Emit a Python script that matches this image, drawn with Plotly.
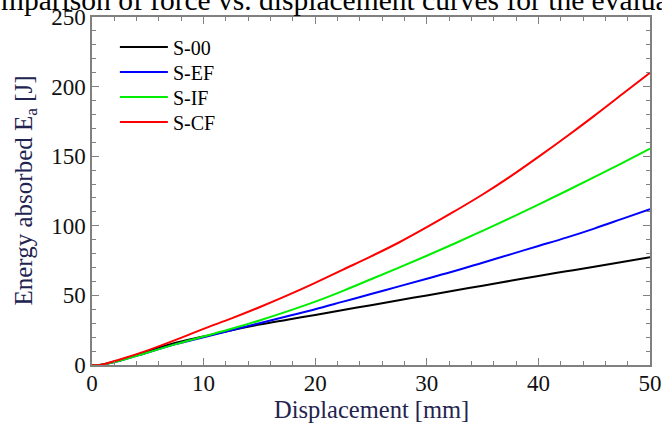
import plotly.graph_objects as go

# Displacement [mm]
disp = [0, 0.7, 2.5, 5, 7.5, 10, 12.5, 15, 17.5, 20, 22.5, 25, 27.5, 30,
        32.5, 35, 37.5, 40, 42.5, 45, 47.5, 50]

# Energy absorbed [J]
s00 = [0, 0, 3.5, 10, 16, 20.5, 25, 29, 32.5, 36, 39.5, 43, 46.5, 50,
       53.5, 57, 60.5, 64, 67.3, 70.6, 74, 77.5]
sef = [0, 0, 3, 9, 15, 20, 25, 30, 35, 40, 45.5, 51, 56.5, 62,
       67.5, 73.5, 79.5, 85.5, 91.5, 98, 105, 112]
sif = [0, 0, 3, 9, 15, 20.5, 26, 32, 38.5, 45.5, 53.3, 61.6, 70, 78.5,
       87.3, 96.4, 105.7, 115.2, 125, 134.9, 145.1, 155.5]
scf = [0, 0, 4, 10.5, 18, 26, 33.5, 41.5, 50, 59, 68.5, 78, 88, 99,
       110.5, 122.5, 135.5, 149.5, 164, 179, 194.5, 210]

series_names = ["S-00", "S-EF", "S-IF", "S-CF"]
series_vals = [s00, sef, sif, scf]
series_colors = ["#000000", "#0000ff", "#00ee00", "#ff0000"]

x_ticks = [0, 10, 20, 30, 40, 50]
y_ticks = [0, 50, 100, 150, 200, 250]

FONT = "Liberation Serif"
TITLE_COLOR = "#23234f"

# one single-entry legend per series, to reproduce the tight row spacing
legend_ids = ["legend", "legend2", "legend3", "legend4"]
legend_rows_y = [0.9138, 0.8420, 0.7701, 0.6983]

fig = go.Figure()
for name, vals, col, lid in zip(series_names, series_vals, series_colors, legend_ids):
    fig.add_trace(go.Scatter(x=disp, y=vals, mode="lines", name=name, legend=lid,
                             line=dict(color=col, width=2, shape="spline")))

axis_common = dict(
    showgrid=False, zeroline=False, showline=True, linecolor="#808080",
    linewidth=1.5, mirror="ticks", ticks="inside", ticklen=7, tickwidth=1.2,
    tickcolor="#808080", automargin=False,
    tickfont=dict(family=FONT, size=23, color="#111111"),
)

fig.update_xaxes(range=[0, 50], tickvals=x_ticks, ticktext=[str(v) for v in x_ticks],
                 ticklabelstandoff=-3,
                 minor=dict(dtick=2, tick0=0, ticks="inside", ticklen=4,
                            tickcolor="#808080", tickwidth=1),
                 **axis_common)
fig.update_yaxes(range=[0, 250], tickvals=y_ticks, ticktext=[str(v) for v in y_ticks],
                 minor=dict(dtick=10, tick0=0, ticks="inside", ticklen=4,
                            tickcolor="#808080", tickwidth=1),
                 **axis_common)

fig.add_annotation(text="Displacement [mm]", xref="paper", yref="paper",
                   x=0.5, y=0, yshift=-29, xanchor="center", yanchor="top",
                   showarrow=False, font=dict(family=FONT, size=24.5, color=TITLE_COLOR))
fig.add_annotation(text="Energy absorbed E<sub>a</sub> [J]", xref="paper", yref="paper",
                   x=0, y=0.5, xshift=-50, xanchor="right", yanchor="middle",
                   textangle=-90, showarrow=False,
                   font=dict(family=FONT, size=25, color=TITLE_COLOR))
fig.add_annotation(text="mparison of force vs. displacement curves for the evaluated",
                   xref="paper", yref="paper", x=0, xshift=-93, y=1, yshift=17,
                   xanchor="left", yanchor="middle", showarrow=False,
                   font=dict(family=FONT, size=29.5, color="#000000"))

legend_style = dict(x=0.041, xanchor="left", yanchor="middle",
                    bgcolor="rgba(0,0,0,0)", itemwidth=48,
                    font=dict(family=FONT, size=20, color="#000000"))

layout_legends = {lid: dict(y=ly, **legend_style) for lid, ly in zip(legend_ids, legend_rows_y)}

fig.update_layout(
    width=662, height=424, autosize=False,
    margin=dict(l=92, r=12, t=17, b=59),
    paper_bgcolor="white", plot_bgcolor="white",
    font=dict(family=FONT),
    showlegend=True,
    **layout_legends,
)

fig.write_html("out.html", config={"responsive": False, "displayModeBar": False},
               post_script="document.body.style.margin='0';document.body.style.overflow='hidden';")
